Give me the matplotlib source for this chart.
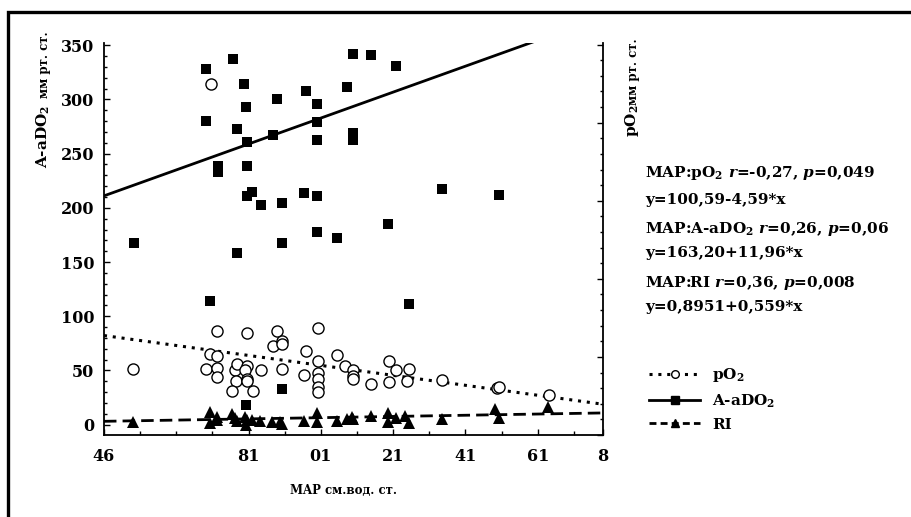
import matplotlib
matplotlib.use("Agg")
import matplotlib.pyplot as plt
import numpy as np
from matplotlib.patches import Rectangle
from matplotlib.ticker import MultipleLocator, NullFormatter

plt.rcParams['font.family'] = ['DejaVu Serif']
plt.rcParams['font.weight'] = 'bold'
plt.rcParams['mathtext.fontset'] = 'custom'
plt.rcParams['mathtext.rm'] = 'DejaVu Serif:bold'
plt.rcParams['mathtext.bf'] = 'DejaVu Serif:bold'
plt.rcParams['mathtext.it'] = 'DejaVu Serif:italic:bold'

# A-aDO2 (squares)
aado2_x = [4.83, 6.82, 7.56, 7.87, 6.82, 7.67, 7.92, 7.95, 7.15, 7.15,
           7.95, 8.09, 7.95, 8.34, 8.78, 8.67, 8.92, 8.92, 7.67, 9.52,
           9.58, 9.88, 9.88, 9.88, 9.88, 9.88, 10.71, 10.88, 11.4, 12.09,
           10.9, 10.9, 13.36, 14.94, 11.87, 10.46, 6.93, 7.92, 8.92, 12.45]
aado2_y = [168, 328, 337, 314, 280, 273, 293, 261, 239, 233,
           239, 215, 211, 203, 300, 267, 204, 168, 158, 214,
           308, 296, 279, 263, 211, 178, 311, 342, 341, 331,
           269, 263, 217, 212, 185, 172, 114, 18, 33, 111]

# pO2 (open circles)
po2_x = [4.8, 6.82, 6.93, 7.12, 7.12, 7.12, 7.12, 7.62, 7.67, 7.65,
         7.54, 7.95, 7.95, 7.9, 7.95, 7.95, 8.12, 8.34, 8.78, 8.67,
         8.92, 8.92, 8.92, 9.6, 9.52, 9.91, 9.91, 9.91, 9.91, 9.91,
         9.91, 10.44, 10.68, 10.88, 10.88, 10.88, 11.38, 11.88, 11.88, 12.09,
         12.37, 12.45, 13.36, 14.86, 14.94, 16.3, 6.96]
po2_y = [51.6, 51.6, 65, 86, 63, 52.5, 44, 50.6, 56, 40,
         31, 84.5, 54, 50.6, 42, 40.5, 31, 50.6, 86, 73,
         77.6, 74, 51.6, 68, 46, 89, 59, 48, 42, 35,
         30.6, 64.5, 54, 50.6, 44.5, 42, 37.7, 58.5, 39.6, 50,
         40.6, 51.6, 41.4, 34, 34.5, 27.6, 314]

# RI (triangles)
ri_x = [4.8, 6.93, 6.93, 7.12, 7.12, 7.54, 7.62, 7.67, 7.9, 7.95,
        7.92, 8.09, 8.31, 8.64, 8.86, 8.92, 9.52, 9.88, 9.88, 10.44,
        10.71, 10.85, 10.88, 11.38, 11.85, 11.85, 12.09, 12.34, 12.43, 13.34,
        14.83, 14.94, 16.27]
ri_y = [2.8, 12, 2, 7.5, 4, 10, 6.4, 3, 7.5, 4.6,
        0, 4.6, 3.7, 2.8, 2.8, 1, 3.7, 11, 2.8, 3.7,
        5.5, 7, 5.5, 8, 11, 2.8, 6.4, 8, 2, 5.5,
        14.5, 6.4, 16]

# regression coefficients (intercept, slope)
fit_po2 = (100.59, -4.59)
fit_aado2 = (163.20, 11.96)
fit_ri = (0.8951, 0.559)

xtick_pos = [4, 8, 10, 12, 14, 16, 17.8]
xtick_labels = ["46", "81", "01", "21", "41", "61", "8"]
ytick_pos = [0, 50, 100, 150, 200, 250, 300, 350]

notes = [
    r"MAP:pO$_2$ $r$=-0,27, $p$=0,049",
    r"y=100,59-4,59*x",
    r"MAP:A-aDO$_2$ $r$=0,26, $p$=0,06",
    r"y=163,20+11,96*x",
    r"MAP:RI $r$=0,36, $p$=0,008",
    r"y=0,8951+0,559*x",
]

dotted = (0, (1.0, 1.9))
dashed = (0, (4.5, 2.2))

fig = plt.figure(figsize=(9.12, 5.17), dpi=100)
ax = fig.add_axes([0.114, 0.1586, 0.547, 0.7582])
x0, x1 = 4, 17.8
ax.set_xlim(x0, x1)
ax.set_ylim(-9.5, 352)

xs = np.array([x0, x1])
ax.plot(xs, fit_po2[0] + fit_po2[1] * xs, color='black', lw=2.2,
        linestyle=dotted, dash_capstyle='butt')
ax.plot(xs, fit_aado2[0] + fit_aado2[1] * xs, color='black', lw=2.0)
ax.plot(xs, fit_ri[0] + fit_ri[1] * xs, color='black', lw=2.0,
        linestyle=dashed)

ax.plot(aado2_x, aado2_y, 's', color='black', ms=7.3, mew=0, zorder=3)
ax.plot(po2_x, po2_y, 'o', mfc='white', mec='black', ms=8, mew=1.0, zorder=3)
ax.plot(ri_x, ri_y, '^', color='black', ms=8.3, mew=0, zorder=3)

# legend proxies
h1, = ax.plot([], [], color='black', lw=2.2, linestyle=dotted,
              marker='o', mfc='white', mec='black', ms=5.5, mew=1.0)
h2, = ax.plot([], [], color='black', lw=2.0, marker='s', ms=6)
h3, = ax.plot([], [], color='black', lw=2.0, linestyle=(0, (2.5, 1.5)),
              marker='^', ms=6)
fig.legend([h1, h2, h3], ["pO$_2$", "A-aDO$_2$", "RI"], loc='upper left',
           bbox_to_anchor=(0.697, 0.318), frameon=False, fontsize=11,
           handlelength=3.3, handletextpad=0.8, labelspacing=0.52)

ax.set_xticks(xtick_pos, xtick_labels)
ax.xaxis.set_minor_locator(MultipleLocator(1))
ax.set_yticks(ytick_pos)
ax.yaxis.set_minor_locator(MultipleLocator(10))
ax.tick_params(axis='both', which='both', direction='in', labelsize=11.5)
ax.tick_params(axis='x', which='major', length=4, width=1, pad=9)
ax.tick_params(axis='x', which='minor', length=3, width=1)
ax.tick_params(axis='y', which='major', length=4, width=1, pad=7)
ax.tick_params(axis='y', which='minor', length=2.5, width=1)
for lbl in ax.get_xticklabels() + ax.get_yticklabels():
    lbl.set_fontweight('bold')
ax.spines['top'].set_visible(False)
ax.spines['right'].set_visible(False)
for s in ['left', 'bottom']:
    ax.spines[s].set_linewidth(1.3)

# right axis without labels
ax2 = ax.twinx()
ax2.set_ylim(0, 25.1)
ax2.yaxis.set_major_locator(MultipleLocator(5))
ax2.yaxis.set_minor_locator(MultipleLocator(1))
ax2.yaxis.set_major_formatter(NullFormatter())
ax2.tick_params(axis='y', which='both', direction='in', width=1)
ax2.tick_params(axis='y', which='major', length=4)
ax2.tick_params(axis='y', which='minor', length=2.5)
for s in ['top', 'left', 'bottom']:
    ax2.spines[s].set_visible(False)
ax2.spines['right'].set_linewidth(1.3)

# axis titles
fig.text(43 / 912, 1 - 168 / 517, "A-aDO$_2$", rotation=90, ha='center',
         va='bottom', fontsize=11, fontweight='bold')
fig.text(45 / 912, 1 - 98 / 517, "мм рт. ст.", rotation=90, ha='center',
         va='bottom', fontsize=8.5, fontweight='bold')
fig.text(632 / 912, 1 - 137 / 517, "pO$_2$", rotation=90, ha='center',
         va='bottom', fontsize=11, fontweight='bold')
fig.text(634 / 912, 1 - 105 / 517, "мм рт. ст.", rotation=90, ha='center',
         va='bottom', fontsize=8.5, fontweight='bold')
fig.text(344 / 912, 1 - 491 / 517, "MAP см.вод. ст.", ha='center',
         va='center', fontsize=8.5, fontweight='bold')

note_y = [173, 200, 229, 253, 283, 307]
for t, yy in zip(notes, note_y):
    fig.text(645 / 912, 1 - yy / 517, t, ha='left', va='center',
             fontsize=11, fontweight='bold')

# outer frame
fig.patches.append(Rectangle((8 / 912, -0.1), 1.2, 0.1 + (1 - 12 / 517),
                             transform=fig.transFigure, fill=False,
                             edgecolor='black', lw=2.4))

fig.savefig("out.png", dpi=100)
